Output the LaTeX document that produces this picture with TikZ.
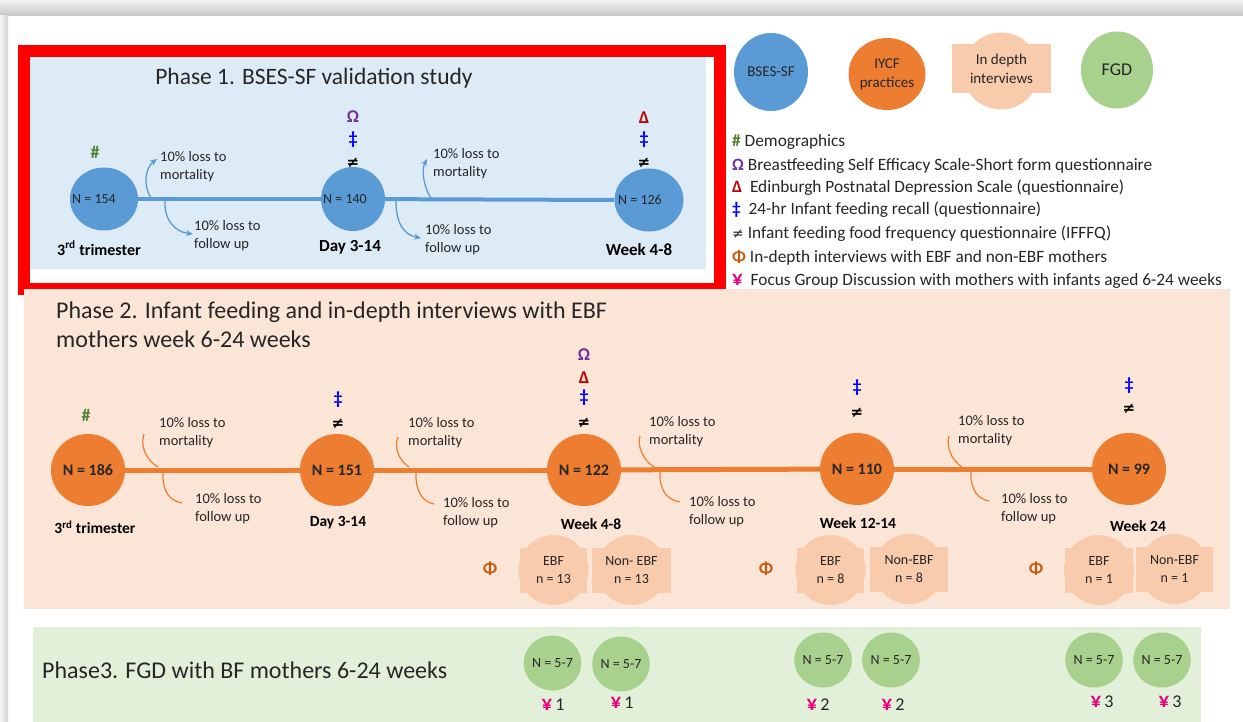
\documentclass[tikz,border=0pt]{standalone}
\usepackage{fontspec}
\setmainfont{Carlito}
\newfontfamily\djv{DejaVu Sans}
\usetikzlibrary{shapes.geometric,arrows.meta}
\definecolor{bsblue}{HTML}{5B9BD5}
\definecolor{iyorange}{HTML}{ED7D31}
\definecolor{peach}{HTML}{F8CBAD}
\definecolor{fggreen}{HTML}{A9D18E}
\definecolor{pobg}{HTML}{DDEBF7}
\definecolor{ptbg}{HTML}{FBE5D6}
\definecolor{pthbg}{HTML}{E2F0D9}
\definecolor{hashgreen}{HTML}{548235}
\definecolor{omegapurple}{HTML}{7030A0}
\definecolor{deltared}{HTML}{C00000}
\definecolor{ddblue}{HTML}{0000FF}
\definecolor{phiorange}{HTML}{C55A11}
\definecolor{yenpink}{HTML}{E6007E}
\definecolor{txt}{HTML}{262626}
\newcommand{\plq}[5]{%
  \node[pcirc] (#1c) at (#2,#3) {};
  \node[prect, minimum width=#4] (#1) at (#2,#3) {#5};}
\newcommand{\yensym}{\textcolor{yenpink}{\bfseries\fontsize{21}{20}\selectfont ¥}}
\begin{document}
\begin{tikzpicture}[x=1pt,y=-1pt,
  ponode/.style={ellipse, fill=bsblue, inner sep=0},
  potext/.style={inner sep=0, text=txt, font=\fontsize{14}{16}\selectfont},
  ptnode/.style={ellipse, fill=iyorange, minimum width=74, minimum height=72, inner sep=0, text=txt, font=\bfseries\fontsize{16}{18}\selectfont},
  gnode/.style={ellipse, fill=fggreen, minimum width=54, minimum height=55, inner sep=0, text=txt, font=\fontsize{14}{15}\selectfont},
  sym/.style={font=\bfseries\fontsize{18}{20}\selectfont, inner sep=0},
  neq/.style={font=\djv\bfseries\fontsize{15}{16}\selectfont, inner sep=0, text=black},
  loss/.style={anchor=west, align=left, font=\fontsize{14.5}{18}\selectfont, inner sep=0, text=txt},
  tlabel/.style={font=\bfseries\fontsize{15.5}{18}\selectfont, inner sep=0, text=black},
  parrow/.style={draw=bsblue, line width=1.3, -{Stealth[length=7,width=6]}},
  pcurve/.style={draw=iyorange, line width=1.2},
  title/.style={anchor=west, align=left, inner sep=0, text=txt},
  legend/.style={anchor=west, inner sep=0, text=txt, font=\fontsize{17.3}{20}\selectfont},
  pcirc/.style={circle, fill=peach, minimum size=70, inner sep=0},
  prect/.style={rectangle, fill=peach, minimum height=45, inner sep=0, align=center, text=txt, font=\fontsize{14}{18}\selectfont},
  yen/.style={inner sep=0, text=txt, font=\fontsize{18}{20}\selectfont}
]
\useasboundingbox (0,0) rectangle (1243,722);
\fill[white] (0,0) rectangle (1243,722);
% page shadow
\shade[top color=gray!10, bottom color=gray!45] (0,0) rectangle (1243,16);
\shade[left color=gray!8, right color=gray!35] (0,16) rectangle (8,722);

% ===== Phase 1 =====
\draw[red, line width=12] (24,51) rectangle (720,289);
\fill[pobg] (30,57) rectangle (706,269);
\node[title, anchor=center, font=\fontsize{23.5}{26}\selectfont] (t1) at (314,78) {Phase 1. BSES-SF validation study};

\node[ponode, minimum width=68, minimum height=63] (a1) at (104,199) {};
\node[ponode, minimum width=64, minimum height=64] (a2) at (353,199) {};
\node[ponode, minimum width=69, minimum height=63] (a3) at (649,200) {};
\node[potext] (a1t) at (94,199) {N = 154};
\node[potext] (a2t) at (345,199) {N = 140};
\node[potext] (a3t) at (640,200) {N = 126};
\draw[bsblue, line width=4] (a1) -- (a2);
\draw[bsblue, line width=4] (a2) -- (a3.west);

\node[sym, text=hashgreen] (h1) at (95,152) {\#};
\node[sym, text=omegapurple] (o1) at (353,117) {Ω};
\node[sym, text=ddblue] (d1) at (353,140) {‡};
\node[neq] (e1) at (353,163) {≠};
\node[sym, text=deltared] (dl1) at (644,118) {Δ};
\node[sym, text=ddblue] (d2) at (644,140) {‡};
\node[neq] (e2) at (644,163) {≠};

\node[tlabel, font=\bfseries\fontsize{16}{18}\selectfont] (l1) at (99,248) {3\textsuperscript{rd} trimester};
\node[tlabel, font=\bfseries\fontsize{17}{18}\selectfont] (l2) at (350,247) {Day 3-14};
\node[tlabel, font=\bfseries\fontsize{17}{18}\selectfont] (l3) at (639,250) {Week 4-8};

\coordinate (u1s) at (151,198); \coordinate (u1e) at (157,159);
\coordinate (w1s) at (165,201); \coordinate (w1e) at (193,234);
\coordinate (u2s) at (431,198); \coordinate (u2e) at (427,159);
\coordinate (w2s) at (396,201); \coordinate (w2e) at (421,238);
\draw[parrow] (u1s) .. controls (143,186) and (145,168) .. (u1e);
\draw[parrow] (w1s) .. controls (164,220) and (175,232) .. (w1e);
\draw[parrow] (u2s) .. controls (424,188) and (421,170) .. (u2e);
\draw[parrow] (w2s) .. controls (396,225) and (405,235) .. (w2e);
\node[loss] (m1) at (160,167) {10\% loss to\\mortality};
\node[loss] (f1) at (194,235.5) {10\% loss to\\follow up};
\node[loss] (m2) at (433,164) {10\% loss to\\mortality};
\node[loss] (f2) at (425,240) {10\% loss to\\follow up};

% ===== Legend =====
\node[ellipse, fill=bsblue, minimum width=74, minimum height=78, inner sep=0, text=txt, font=\fontsize{15}{17}\selectfont] (kb) at (771,72) {BSES-SF};
\node[ellipse, fill=iyorange, minimum width=73, minimum height=72, inner sep=0, text=txt, align=center, font=\fontsize{15}{19}\selectfont] (ki) at (887,74) {IYCF\\practices};
\node[circle, fill=peach, minimum size=77, inner sep=0] (kdc) at (1001,71) {};
\node[rectangle, fill=peach, minimum width=99, minimum height=49, inner sep=0, align=center, text=txt, font=\fontsize{15}{19}\selectfont] (kd) at (1001.5,68.5) {In depth\\interviews};
\node[ellipse, fill=fggreen, minimum width=72, minimum height=77, inner sep=0, text=txt, font=\fontsize{18}{20}\selectfont] (kf) at (1117,70) {FGD};

\node[legend] (g1) at (732,142) {\textcolor{hashgreen}{\bfseries\#} Demographics};
\node[legend] (g2) at (732,166) {\textcolor{omegapurple}{\bfseries Ω} Breastfeeding Self Efficacy Scale-Short form questionnaire};
\node[legend] (g3) at (732,188) {\textcolor{deltared}{\bfseries Δ}\ \ Edinburgh Postnatal Depression Scale (questionnaire)};
\node[legend] (g4) at (732,210) {\textcolor{ddblue}{\bfseries ‡}\ \ 24-hr Infant feeding recall (questionnaire)};
\node[legend] (g5) at (732,234) {{\djv\fontsize{14}{15}\selectfont ≠} Infant feeding food frequency questionnaire (IFFFQ)};
\node[legend] (g6) at (732,258) {\textcolor{phiorange}{\bfseries Φ} In-depth interviews with EBF and non-EBF mothers};
\node[legend] (g7) at (732,281) {\yensym\ \ Focus Group Discussion with mothers with infants aged 6-24 weeks};

% ===== Phase 2 =====
\fill[ptbg] (24,289) rectangle (1230,609);
\node[title, font=\fontsize{24}{29}\selectfont] (t2) at (56,324.5) {Phase 2. Infant feeding and in-depth interviews with EBF\\mothers week 6-24 weeks};

\node[ptnode] (b1) at (88,470) {N = 186};
\node[ptnode] (b2) at (337,470) {N = 151};
\node[ptnode] (b3) at (584,470) {N = 122};
\node[ptnode] (b4) at (857,469) {N = 110};
\node[ptnode] (b5) at (1129,469) {N = 99};
\foreach \p/\q in {b1/b2,b2/b3,b3/b4,b4/b5}
  \draw[iyorange, line width=5] (\p) -- (\q);

\node[tlabel] (k1) at (95,527) {3\textsuperscript{rd} trimester};
\node[tlabel] (k2) at (338,523) {Day 3-14};
\node[tlabel] (k3) at (591,524) {Week 4-8};
\node[tlabel] (k4) at (858,523) {Week 12-14};
\node[tlabel] (k5) at (1138,526) {Week 24};

\node[sym, text=hashgreen] (h2) at (86,415) {\#};
\node[sym, text=ddblue] (d3) at (338,400) {‡};
\node[neq] (e3) at (338,424) {≠};
\node[sym, text=omegapurple] (o2) at (584,355) {Ω};
\node[sym, text=deltared] (dl2) at (584,378) {Δ};
\node[sym, text=ddblue] (d4) at (584,398) {‡};
\node[neq] (e4) at (584,423) {≠};
\node[sym, text=ddblue] (d5) at (857,388) {‡};
\node[neq] (e5) at (857,413) {≠};
\node[sym, text=ddblue] (d6) at (1129,386) {‡};
\node[neq] (e6) at (1129,409) {≠};

\coordinate (c1s) at (158,467); \coordinate (c1e) at (144,434);
\coordinate (c2s) at (163,471); \coordinate (c2e) at (182,503);
\coordinate (c3s) at (409,467); \coordinate (c3e) at (398,437);
\coordinate (c4s) at (416,471); \coordinate (c4e) at (434,504);
\coordinate (c5s) at (654,467); \coordinate (c5e) at (640,436);
\coordinate (c6s) at (660,471); \coordinate (c6e) at (680,502);
\coordinate (c7s) at (962,467); \coordinate (c7e) at (949,436);
\coordinate (c8s) at (971,471); \coordinate (c8e) at (989,501);
\draw[pcurve] (c1s) .. controls (146,460) and (140,446) .. (c1e);
\draw[pcurve] (c2s) .. controls (162,492) and (170,501) .. (c2e);
\draw[pcurve] (c3s) .. controls (398,460) and (394,446) .. (c3e);
\draw[pcurve] (c4s) .. controls (415,492) and (423,502) .. (c4e);
\draw[pcurve] (c5s) .. controls (643,460) and (637,446) .. (c5e);
\draw[pcurve] (c6s) .. controls (659,490) and (667,500) .. (c6e);
\draw[pcurve] (c7s) .. controls (951,460) and (946,446) .. (c7e);
\draw[pcurve] (c8s) .. controls (970,490) and (978,499) .. (c8e);

\node[loss] (m3) at (159,433) {10\% loss to\\mortality};
\node[loss] (f3) at (195,509) {10\% loss to\\follow up};
\node[loss] (m4) at (408,433) {10\% loss to\\mortality};
\node[loss] (f4) at (443,513) {10\% loss to\\follow up};
\node[loss] (m5) at (649,432) {10\% loss to\\mortality};
\node[loss] (f5) at (689,512) {10\% loss to\\follow up};
\node[loss] (m6) at (958,431) {10\% loss to\\mortality};
\node[loss] (f6) at (1001,508.5) {10\% loss to\\follow up};

\plq{q1}{553.5}{570}{67}{EBF\\n = 13}
\plq{q2}{631.5}{570}{79}{Non- EBF\\n = 13}
\plq{q3}{830.5}{570}{67}{EBF\\n = 8}
\plq{q4}{909}{569}{78}{Non-EBF\\n = 8}
\plq{q5}{1099}{570}{68}{EBF\\n = 1}
\plq{q6}{1174.5}{569}{77}{Non-EBF\\n = 1}

\node[sym, text=phiorange] (p1) at (490,569) {Φ};
\node[sym, text=phiorange] (p2) at (766,569) {Φ};
\node[sym, text=phiorange] (p3) at (1036,569) {Φ};

% ===== Phase 3 =====
\fill[pthbg] (33,627) rectangle (1201,722);
\node[title, font=\fontsize{24}{26}\selectfont] (t3) at (42,670) {Phase3. FGD with BF mothers 6-24 weeks};
\node[gnode] (r1) at (552.5,663) {N = 5-7};
\node[gnode] (r2) at (621,664) {N = 5-7};
\node[gnode] (r3) at (823,660) {N = 5-7};
\node[gnode] (r4) at (891,660) {N = 5-7};
\node[gnode] (r5) at (1094,660) {N = 5-7};
\node[gnode] (r6) at (1162,660) {N = 5-7};
\node[yen] (y1) at (553,705) {\yensym\,1};
\node[yen] (y2) at (622,703) {\yensym\,1};
\node[yen] (y3) at (818,705) {\yensym\,2};
\node[yen] (y4) at (893,705) {\yensym\,2};
\node[yen] (y5) at (1102,702) {\yensym\,3};
\node[yen] (y6) at (1170,702) {\yensym\,3};
\end{tikzpicture}
\end{document}
